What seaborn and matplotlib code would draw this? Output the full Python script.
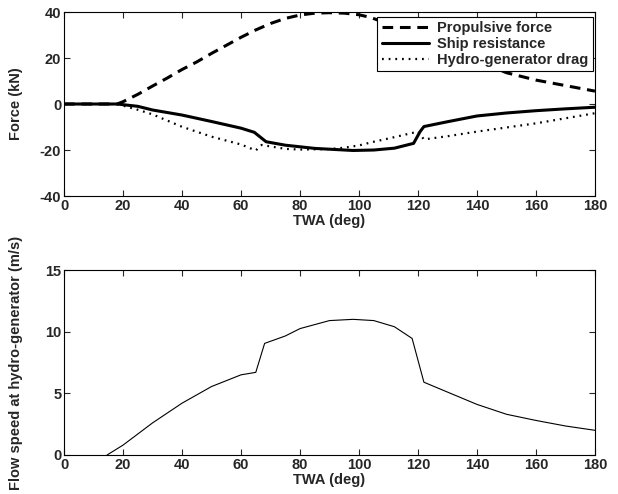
import pandas as pd
import matplotlib
matplotlib.use('Agg')
import matplotlib.pyplot as plt
import seaborn as sns

# Propulsive force (kN) vs TWA
twa_prop = [0, 10, 18, 20, 25, 30, 35, 40, 45, 50, 55, 60, 65, 70, 75, 80, 85, 90, 95, 100,
            104, 110, 120, 130, 140, 150, 160, 170, 180]
prop_force = [0, 0, 0, 1.0, 4.2, 7.8, 11.3, 15.0, 18.3, 22.0, 25.5, 29.0, 32.2, 35.0, 37.2, 38.7, 39.5, 39.7, 39.5, 38.8,
              37.6, 34.8, 29.3, 23.8, 18.6, 13.6, 10.4, 8.0, 5.6]

# Ship resistance (kN)
twa_res = [0, 10, 18, 25, 30, 40, 50, 60, 64.5, 68.5, 75, 85, 98, 105, 112, 118.5, 120.7, 122, 130, 140, 150, 160, 170, 180]
ship_res = [0, 0, 0, -1.0, -2.6, -4.8, -7.6, -10.5, -12.3, -16.4, -17.9, -19.3, -20.2, -20.0, -19.2, -17.1, -12.0, -9.8,
            -7.7, -5.2, -3.9, -2.9, -2.1, -1.4]

# Hydro-generator drag (kN)
twa_drag = [0, 10, 18, 25, 30, 40, 50, 60, 65, 67, 75, 80, 90, 95, 100, 105, 110, 118, 120, 122, 130, 140, 150, 160, 170, 180]
hydro_drag = [0, 0, 0, -2.5, -4.5, -9.9, -14.2, -17.6, -20.2, -17.8, -19.5, -19.8, -19.6, -19.0, -18.0, -16.4, -15.0,
              -12.6, -12.0, -15.4, -14.0, -12.0, -10.2, -8.4, -6.2, -4.0]

# Flow speed at hydro-generator (m/s)
twa_flow = [14.6, 20, 30, 40, 50, 60, 65, 68, 75, 80, 90, 98, 105, 112, 118, 122, 130, 140, 150, 160, 170, 180]
flow_speed = [0, 0.8, 2.6, 4.2, 5.55, 6.5, 6.7, 9.05, 9.65, 10.25, 10.9, 11.0, 10.9, 10.4, 9.45, 5.9, 5.1, 4.1, 3.3, 2.8,
              2.35, 2.0]

x_ticks = list(range(0, 181, 20))

sns.set_style('ticks')
plt.rcParams['font.family'] = ['Liberation Sans', 'DejaVu Sans']
plt.rcParams['font.weight'] = 'bold'
plt.rcParams['axes.labelweight'] = 'bold'
plt.rcParams['font.size'] = 10.5
plt.rcParams['axes.unicode_minus'] = False
plt.rcParams['xtick.direction'] = 'in'
plt.rcParams['ytick.direction'] = 'in'
plt.rcParams['xtick.top'] = True
plt.rcParams['ytick.right'] = True
plt.rcParams['axes.linewidth'] = 0.8
plt.rcParams['axes.edgecolor'] = 'black'

fig = plt.figure(figsize=(6.18, 4.94), dpi=100)
ax1 = fig.add_axes([0.1036, 0.6032, 0.8592, 0.3725])
ax2 = fig.add_axes([0.1036, 0.0790, 0.8592, 0.3744])

sns.lineplot(x=twa_prop, y=prop_force, ax=ax1, color='black', linewidth=2.2,
             linestyle=(0, (3.5, 2.2)), label='Propulsive force')
sns.lineplot(x=twa_res, y=ship_res, ax=ax1, color='black', linewidth=2.2,
             label='Ship resistance')
sns.lineplot(x=twa_drag, y=hydro_drag, ax=ax1, color='black', linewidth=1.6,
             linestyle=(0, (0.8, 2.2)), label='Hydro-generator drag')

ax1.set_xlim(0, 180)
ax1.set_ylim(-40, 40)
ax1.set_xticks(x_ticks)
ax1.set_yticks([-40, -20, 0, 20, 40])
ax1.set_xlabel('TWA (deg)', labelpad=1)
ax1.set_ylabel('Force (kN)')
leg = ax1.legend(loc='upper right', bbox_to_anchor=(0.996, 0.973), borderaxespad=0,
                 fancybox=False, edgecolor='black', framealpha=1, handlelength=3.2,
                 borderpad=0.3, labelspacing=0.12, handletextpad=0.6,
                 prop={'weight': 'bold', 'size': 10.5})
leg.get_frame().set_linewidth(0.8)

sns.lineplot(x=twa_flow, y=flow_speed, ax=ax2, color='black', linewidth=0.8)
ax2.set_xlim(0, 180)
ax2.set_ylim(0, 15)
ax2.set_xticks(x_ticks)
ax2.set_yticks([0, 5, 10, 15])
ax2.set_xlabel('TWA (deg)', labelpad=1)
ax2.set_ylabel('Flow speed at hydro-generator (m/s)')

for ax in (ax1, ax2):
    ax.tick_params(length=4, width=0.8, pad=2, labelsize=10.5)
    ax.yaxis.set_label_coords(-0.078, 0.5)
    for lab in ax.get_xticklabels() + ax.get_yticklabels():
        lab.set_fontweight('bold')

fig.savefig('out.png', dpi=100)
